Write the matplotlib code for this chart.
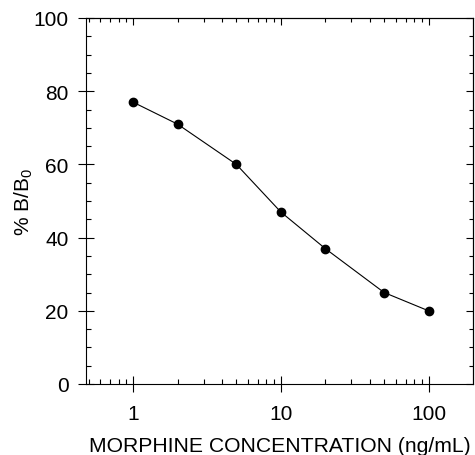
import matplotlib
matplotlib.use("Agg")
import matplotlib.pyplot as plt
from matplotlib.ticker import FixedLocator, NullFormatter, MultipleLocator

conc = [1, 2, 5, 10, 20, 50, 100]
pct_b_b0 = [77, 71, 60, 47, 37, 25, 20]
x_major = [1, 10, 100]
x_major_labels = ["1", "10", "100"]
x_minor = [0.5, 0.6, 0.7, 0.8, 0.9, 2, 3, 4, 5, 6, 7, 8, 9, 20, 30, 40, 50, 60, 70, 80, 90]
y_major = [0, 20, 40, 60, 80, 100]

plt.rcParams['font.family'] = ['Liberation Sans', 'DejaVu Sans']
plt.rcParams['mathtext.fontset'] = 'custom'
plt.rcParams['mathtext.rm'] = 'Liberation Sans'
plt.rcParams['mathtext.it'] = 'Liberation Sans'

fig = plt.figure(figsize=(4.75, 4.56), dpi=100)
ax = fig.add_axes([86/475, 1-385/456, (473-86)/475, (385-19)/456])
ax.set_xscale('log')
ax.plot(conc, pct_b_b0, color='black', lw=0.8, marker='o', ms=6, mfc='black', mec='black')
ax.set_xlim(0.48, 200)
ax.set_ylim(0, 100)

ax.xaxis.set_major_locator(FixedLocator(x_major))
ax.set_xticklabels(x_major_labels)
ax.xaxis.set_minor_locator(FixedLocator(x_minor))
ax.xaxis.set_minor_formatter(NullFormatter())
ax.yaxis.set_major_locator(FixedLocator(y_major))
ax.yaxis.set_minor_locator(MultipleLocator(5))

ax.tick_params(which='major', direction='inout', length=11, width=0.8, labelsize=15)
ax.tick_params(axis='y', which='major', pad=7)
ax.tick_params(axis='x', which='major', pad=9)
ax.tick_params(which='minor', direction='in', length=3.5, width=0.8)
for s in ax.spines.values():
    s.set_linewidth(0.8)

top = ax.secondary_xaxis('top')
top.xaxis.set_major_locator(FixedLocator(x_major))
top.xaxis.set_minor_locator(FixedLocator(x_minor))
top.xaxis.set_major_formatter(NullFormatter())
top.xaxis.set_minor_formatter(NullFormatter())
top.tick_params(which='major', direction='in', length=5, width=0.8)
top.tick_params(which='minor', direction='in', length=3, width=0.8)

right = ax.secondary_yaxis('right')
right.yaxis.set_major_locator(FixedLocator(y_major))
right.yaxis.set_minor_locator(MultipleLocator(5))
right.yaxis.set_major_formatter(NullFormatter())
right.tick_params(which='major', direction='in', length=5, width=0.8)
right.tick_params(which='minor', direction='in', length=3, width=0.8)

ax.set_xlabel('MORPHINE CONCENTRATION (ng/mL)', fontsize=15.2, labelpad=9)
ax.set_ylabel(r'% B/B$_\mathregular{0}$', fontsize=15, labelpad=-1)

fig.savefig('out.png', dpi=100)
